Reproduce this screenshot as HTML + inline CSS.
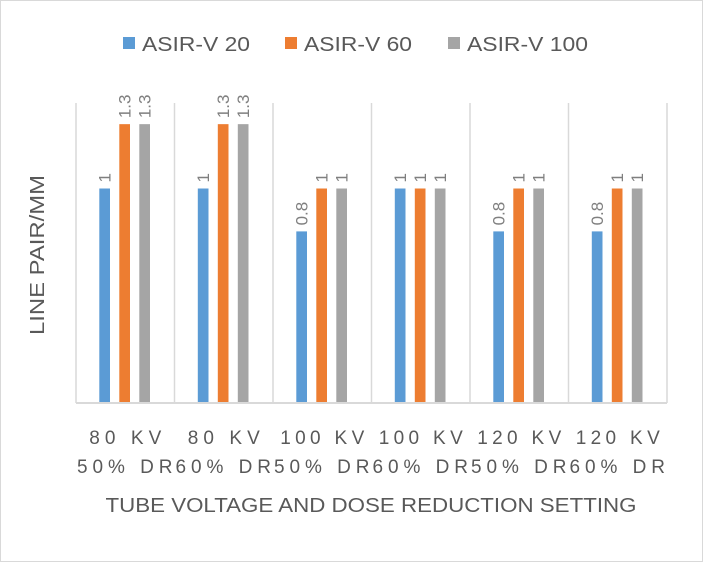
<!DOCTYPE html>
<html><head><meta charset="utf-8"><style>
body{margin:0;background:#fff}
svg{display:block;font-family:"Liberation Sans",sans-serif}
</style></head><body>
<svg id="chart" width="703" height="562">
<rect x="0.5" y="0.5" width="702" height="561" fill="#fff" stroke="#d9d9d9"/>
<g>
<g><rect x="123" y="37" width="12" height="12" fill="#5b9bd5"/><text x="142" y="51" font-size="20" fill="#595959" textLength="108" lengthAdjust="spacingAndGlyphs">ASIR-V 20</text></g>
<g><rect x="285" y="37" width="12" height="12" fill="#ed7d31"/><text x="304" y="51" font-size="20" fill="#595959" textLength="108" lengthAdjust="spacingAndGlyphs">ASIR-V 60</text></g>
<g><rect x="448" y="37" width="12" height="12" fill="#a5a5a5"/><text x="467" y="51" font-size="20" fill="#595959" textLength="121" lengthAdjust="spacingAndGlyphs">ASIR-V 100</text></g>
</g>
<text transform="translate(44,255) rotate(-90)" text-anchor="middle" font-size="20" fill="#595959" textLength="160" lengthAdjust="spacingAndGlyphs">LINE PAIR/MM</text>
<text x="371" y="512" text-anchor="middle" font-size="20" fill="#595959" textLength="531" lengthAdjust="spacingAndGlyphs">TUBE VOLTAGE AND DOSE REDUCTION SETTING</text>
<g id="plot"></g>
</svg>
<script>
const categoriesLine1=["80 KV","80 KV","100 KV","100 KV","120 KV","120 KV"];
const categoriesLine2=["50% DR","60% DR","50% DR","60% DR","50% DR","60% DR"];
const asir20=[1,1,0.8,1,0.8,0.8];
const asir60=[1.3,1.3,1,1,1,1];
const asir100=[1.3,1.3,1,1,1,1];
const seriesNames=["asir-v-20","asir-v-60","asir-v-100"];
const colors=["#5b9bd5","#ed7d31","#a5a5a5"];
const NS="http://www.w3.org/2000/svg";
const plotG=document.getElementById('plot');
const x0=76,groupW=98.5,baseY=403,plotTop=103,pxPerUnit=214.5;
const yScale=v=>baseY-v*pxPerUnit;
const xGroup=i=>x0+i*groupW;
function mk(t,a){const e=document.createElementNS(NS,t);for(const k in a)e.setAttribute(k,a[k]);plotG.appendChild(e);return e;}
for(let i=0;i<=categoriesLine1.length;i++){
  const l=mk('line',{x1:xGroup(i),x2:xGroup(i),y1:plotTop,y2:baseY,stroke:'#d9d9d9','stroke-width':1.5});
  
  
}
const series=[asir20,asir60,asir100];
series.forEach((vals,s)=>{
  vals.forEach((v,i)=>{
    const bx=xGroup(i)+23.3+s*20;
    const r=mk('rect',{x:bx,y:yScale(v),width:10.7,height:v*pxPerUnit,fill:colors[s]});
    
    
    const cx=bx+5.35+6,ty=yScale(v)-6;
    const t=mk('text',{transform:`translate(${cx},${ty}) rotate(-90)`,'font-size':17,fill:'#7f7f7f'});
    t.textContent=String(v);
    
    
  });
});
const ax=mk('line',{x1:x0,x2:xGroup(6),y1:baseY,y2:baseY,stroke:'#d9d9d9','stroke-width':2});


categoriesLine1.forEach((c,i)=>{
  const w1=c.length>5?84:72;
  const t1=mk('text',{x:xGroup(i)+groupW/2-w1/2,y:444,'font-size':19,fill:'#595959',textLength:w1,lengthAdjust:'spacing'});
  t1.textContent=c;
  
  
  const t2=mk('text',{x:xGroup(i)+1,y:473,'font-size':19,fill:'#595959',textLength:groupW-3,lengthAdjust:'spacing'});
  t2.textContent=categoriesLine2[i];
  
  
});
</script>
</body></html>
